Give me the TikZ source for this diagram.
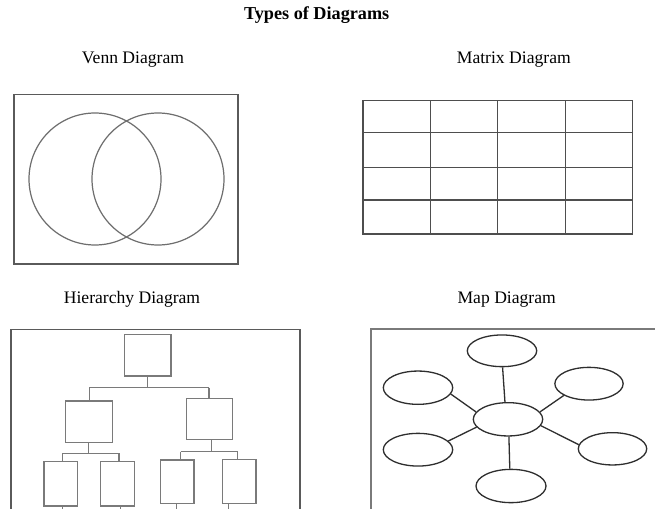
\documentclass[tikz,border=0pt]{standalone}
\usepackage{fontspec}
\setmainfont{Liberation Serif}
\usetikzlibrary{shapes.geometric}
\definecolor{venncol}{HTML}{6E6E6E}
\definecolor{boxcol}{HTML}{5A5A5A}
\definecolor{gridcol}{HTML}{4E4E4E}
\definecolor{hiercol}{HTML}{7A7A7A}
\definecolor{mapcol}{HTML}{2E2E2E}
\tikzset{
  lbl/.style={anchor=base, inner sep=0pt, font=\fontsize{17.6}{20}\selectfont},
  ttl/.style={anchor=base, inner sep=0pt, font=\fontsize{18.2}{21}\selectfont\bfseries},
  frame/.style={draw=boxcol, line width=1.3pt},
  hbox/.style={draw=hiercol, line width=1.4pt, rectangle, inner sep=0pt},
  hline/.style={draw=hiercol, line width=1.4pt},
  mnode/.style={draw=mapcol, line width=1.3pt, ellipse, inner sep=0pt},
  mline/.style={draw=mapcol, line width=1.3pt},
}
\begin{document}
\begin{tikzpicture}[x=1pt,y=-1pt]
\useasboundingbox[fill=white] (0,0) rectangle (655,508);
\clip (0,0) rectangle (655,508);
% titles
\node[ttl] (title) at (316.7,20) {Types of Diagrams};
\node[lbl] (venntxt) at (133,64) {Venn Diagram};
\node[lbl] (mattxt) at (513.8,64) {Matrix Diagram};
\node[lbl] (hiertxt) at (132,303) {Hierarchy Diagram};
\node[lbl] (maptxt) at (506.7,303) {Map Diagram};
% Venn
\draw[frame] (14,94.7) rectangle (238,264);
\draw[draw=venncol, line width=1.2pt] (95,179) circle[radius=66];
\draw[draw=venncol, line width=1.2pt] (158,179) circle[radius=66];
% Matrix
\draw[draw=gridcol, line width=1.3pt] (363,100.7) rectangle (632.7,234);
\foreach \xx in {430.7,497.7,565.3}{\draw[draw=gridcol, line width=1.3pt] (\xx,100.7) -- (\xx,234);}
\foreach \yy in {132.7,167.3,200}{\draw[draw=gridcol, line width=1.3pt] (363,\yy) -- (632.7,\yy);}
% Hierarchy
\draw[frame] (11,329.3) rectangle (300,520);
\node[hbox, minimum width=46.7pt, minimum height=41.7pt] (top) at (147.7,355.2) {};
\node[hbox, minimum width=46.6pt, minimum height=41.7pt] (lm) at (89,421.9) {};
\node[hbox, minimum width=46pt, minimum height=41pt] (rm) at (209.7,418.8) {};
\node[hbox, minimum width=33.7pt, minimum height=44.3pt] (ll) at (60.9,483.9) {};
\node[hbox, minimum width=33.6pt, minimum height=44.3pt] (lr) at (117.5,483.9) {};
\node[hbox, minimum width=33.3pt, minimum height=43.3pt] (rl) at (177.4,481.7) {};
\node[hbox, minimum width=33.7pt, minimum height=44pt] (rr) at (239.2,481.3) {};
\coordinate (j0) at (147.7,387.5);
\coordinate (jl) at (89.3,387.5);
\coordinate (jr) at (209,387.5);
\coordinate (k0) at (88.7,453.3);
\coordinate (kl) at (62.3,453.3);
\coordinate (kr) at (119,453.3);
\coordinate (m0) at (211.7,451.7);
\coordinate (ml) at (180.7,451.7);
\coordinate (mr) at (237.7,451.7);
\draw[hline] (top.south) -- (j0);
\draw[hline] (jl) -- (jr);
\draw[hline] (jl) -- (jl |- lm.north);
\draw[hline] (jr) -- (jr |- rm.north);
\draw[hline] (k0 |- lm.south) -- (k0);
\draw[hline] (kl) -- (kr);
\draw[hline] (kl) -- (kl |- ll.north);
\draw[hline] (kr) -- (kr |- lr.north);
\draw[hline] (m0 |- rm.south) -- (m0);
\draw[hline] (ml) -- (mr);
\draw[hline] (ml) -- (ml |- rl.north);
\draw[hline] (mr) -- (mr |- rr.north);
\coordinate (s1) at (62.7,512);
\coordinate (s2) at (120.7,512);
\coordinate (s3) at (176.7,512);
\coordinate (s4) at (228.3,512);
\draw[hline] (s1 |- ll.south) -- (s1);
\draw[hline] (s2 |- lr.south) -- (s2);
\draw[hline] (s3 |- rl.south) -- (s3);
\draw[hline] (s4 |- rr.south) -- (s4);
% Map
\draw[draw=hiercol, line width=1.3pt] (680,329) -- (371,329) -- (371,520);
\node[mnode, minimum width=69.4pt, minimum height=31.7pt] (mt) at (502,350.8) {};
\node[mnode, minimum width=69.4pt, minimum height=33.3pt] (mul) at (418,387.7) {};
\node[mnode, minimum width=68.3pt, minimum height=32.7pt] (mur) at (589,383.7) {};
\node[mnode, minimum width=69.4pt, minimum height=33.3pt] (mc) at (508,419.3) {};
\node[mnode, minimum width=69.4pt, minimum height=32.7pt] (mll) at (418,449.7) {};
\node[mnode, minimum width=68.4pt, minimum height=32.3pt] (mlr) at (612.5,448.8) {};
\node[mnode, minimum width=70pt, minimum height=33.3pt] (mb) at (511,486) {};
\draw[mline] (mc.100) -- (mt.-88);
\draw[mline] (mc.167) -- (mul.-11);
\draw[mline] (mc.13) -- (mur.205);
\draw[mline] (mc.194) -- (mll.16);
\draw[mline] (mc.-11) -- (mlr.173);
\draw[mline] (mc.-87) -- (mb.94);
\end{tikzpicture}
\end{document}
